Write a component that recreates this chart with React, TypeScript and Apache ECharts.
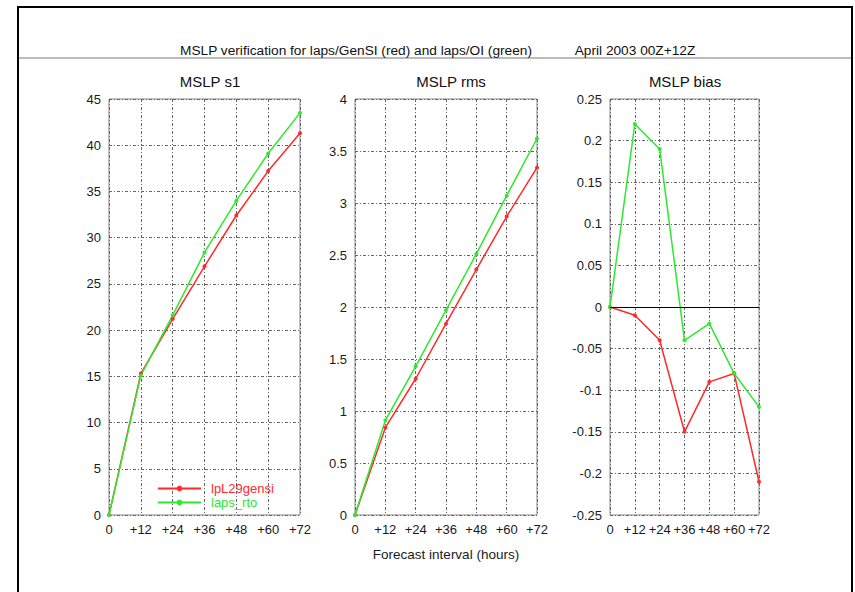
import React, { useEffect, useRef } from "react";
import * as echarts from "echarts";

const hours = [0, 12, 24, 36, 48, 60, 72];
const s1Red = [0, 15.3, 21.2, 26.9, 32.4, 37.2, 41.3];
const s1Green = [0, 15.1, 21.6, 28.4, 34.0, 39.1, 43.5];
const rmsRed = [0, 0.84, 1.31, 1.84, 2.36, 2.87, 3.34];
const rmsGreen = [0, 0.91, 1.43, 1.97, 2.51, 3.07, 3.62];
const biasRed = [0, -0.01, -0.04, -0.15, -0.09, -0.08, -0.21];
const biasGreen = [0, 0.22, 0.19, -0.04, -0.02, -0.08, -0.12];

const RED = "#ff2a2a";
const GREEN = "#2ee82e";
const FONT = "Liberation Sans, Arial, sans-serif";

const pairs = (ys: number[]) => hours.map((h, i) => [h, ys[i]]);

export default function App() {
  const ref = useRef<HTMLDivElement>(null);
  useEffect(() => {
    document.body.style.margin = "0";
    const chart = echarts.init(ref.current!, undefined, { renderer: "svg" });
    const grids = [
      { left: 109, top: 99, width: 191, height: 416 },
      { left: 355, top: 99, width: 182, height: 416 },
      { left: 610, top: 99, width: 149, height: 416 },
    ];
    const splitLine = {
      show: true,
      lineStyle: { color: "#666", type: [3, 2, 1, 2] as any, width: 1 },
    };
    const xAxes = grids.map((_, i) => ({
      type: "value",
      gridIndex: i,
      min: 0,
      max: 72,
      interval: 12,
      axisLine: { show: false },
      axisTick: { show: false },
      splitLine,
      axisLabel: {
        color: "#1a1a1a",
        fontSize: 13,
        fontFamily: FONT,
        margin: 8,
        formatter: (v: number) => (v === 0 ? "0" : "+" + v),
      },
      name: i === 1 ? "Forecast interval (hours)" : "",
      nameLocation: "middle",
      nameGap: 32,
      nameTextStyle: { color: "#1a1a1a", fontSize: 13.5, fontFamily: FONT },
    }));
    const fmt = (v: number) => String(parseFloat(v.toFixed(2)));
    const yCfg = [
      { min: 0, max: 45, interval: 5 },
      { min: 0, max: 4, interval: 0.5 },
      { min: -0.25, max: 0.25, interval: 0.05 },
    ];
    const yAxes = yCfg.map((c, i) => ({
      type: "value",
      gridIndex: i,
      ...c,
      axisLine: { show: false },
      axisTick: { show: false },
      splitLine,
      axisLabel: {
        color: "#1a1a1a",
        fontSize: 13,
        fontFamily: FONT,
        margin: 8,
        formatter: fmt,
      },
    }));
    const mk = (name: string, color: string, data: number[], gi: number, extra: any = {}) => ({
      type: "line",
      name,
      xAxisIndex: gi,
      yAxisIndex: gi,
      data: pairs(data),
      symbol: "circle",
      symbolSize: 4,
      lineStyle: { color, width: 1.5 },
      itemStyle: { color },
      ...extra,
    });
    const zeroLine = {
      markLine: {
        silent: true,
        symbol: "none",
        label: { show: false },
        lineStyle: { color: "#000", type: "solid", width: 1 },
        data: [{ yAxis: 0 }],
      },
    };
    const titleStyle = { color: "#111", fontSize: 15, fontFamily: FONT, fontWeight: "normal" };
    const headStyle = { ...titleStyle, fontSize: 13.7 };
    const legendBase = {
      left: 157,
      orient: "vertical",
      itemWidth: 43,
      itemHeight: 7,
      padding: 0,
      textStyle: { fontSize: 13, fontFamily: FONT, lineHeight: 13, padding: [0, 0, 0, 5] },
    };
    chart.setOption({
      animation: false,
      backgroundColor: "#fff",
      title: [
        {
          text: "MSLP verification for laps/GenSI (red) and laps/OI (green)",
          left: 351,
          top: 38,
          textAlign: "center",
          textStyle: headStyle,
        },
        { text: "April 2003 00Z+12Z", left: 630, top: 38, textAlign: "center", textStyle: headStyle },
        { text: "MSLP s1", left: 205, top: 69, textAlign: "center", textStyle: titleStyle },
        { text: "MSLP rms", left: 446, top: 69, textAlign: "center", textStyle: titleStyle },
        { text: "MSLP bias", left: 680, top: 69, textAlign: "center", textStyle: titleStyle },
      ],
      legend: [
        { ...legendBase, top: 482, data: [{ name: "lpL29gensi", textStyle: { color: RED } }] },
        { ...legendBase, top: 496, data: [{ name: "laps_rto", textStyle: { color: GREEN } }] },
      ],
      grid: grids.map((g) => ({ ...g, show: true, borderColor: "#888", borderWidth: 1, backgroundColor: "transparent" })),
      xAxis: xAxes,
      yAxis: yAxes,
      series: [
        mk("lpL29gensi", RED, s1Red, 0),
        mk("laps_rto", GREEN, s1Green, 0),
        mk("lpL29gensi", RED, rmsRed, 1),
        mk("laps_rto", GREEN, rmsGreen, 1),
        mk("lpL29gensi", RED, biasRed, 2, zeroLine),
        mk("laps_rto", GREEN, biasGreen, 2),
      ],
      graphic: [
        { type: "line", shape: { x1: 18, y1: 7, x2: 852, y2: 7 }, style: { stroke: "#000", lineWidth: 2 } },
        { type: "line", shape: { x1: 18, y1: 6, x2: 18, y2: 592 }, style: { stroke: "#000", lineWidth: 2 } },
        { type: "line", shape: { x1: 852, y1: 6, x2: 852, y2: 592 }, style: { stroke: "#000", lineWidth: 2 } },
        { type: "line", shape: { x1: 19, y1: 58, x2: 851, y2: 58 }, style: { stroke: "#bbb", lineWidth: 2 } },
      ],
    });
    return () => chart.dispose();
  }, []);
  return <div ref={ref} style={{ width: 855, height: 592 }} />;
}
